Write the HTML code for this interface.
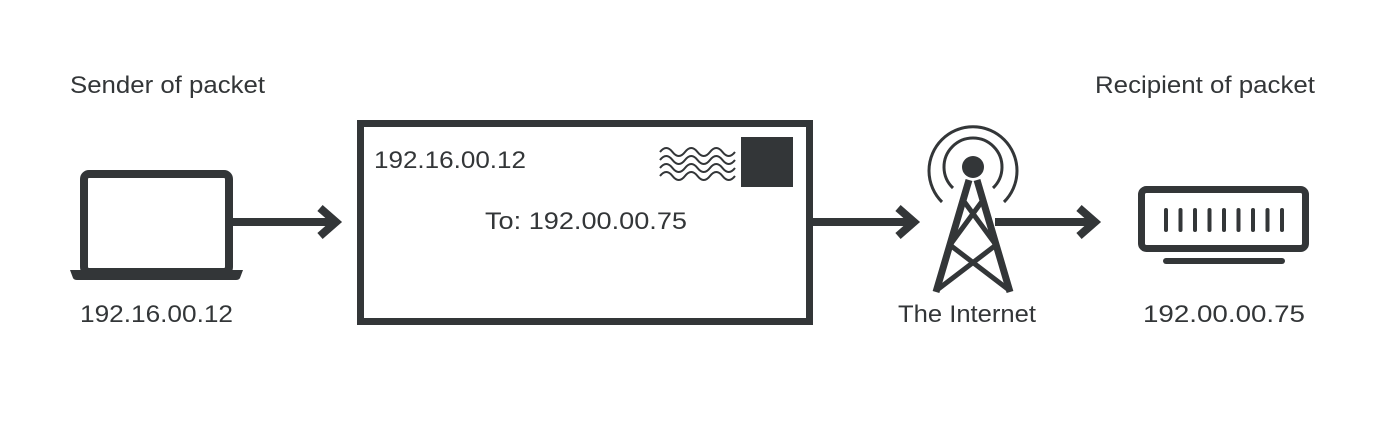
<!DOCTYPE html>
<html><head><meta charset="utf-8"><style>html,body{margin:0;padding:0;background:#fff}svg{display:block}</style></head>
<body>
<svg width="1380" height="424" viewBox="0 0 1380 424" xmlns="http://www.w3.org/2000/svg">
<g fill="#333638" font-family="Liberation Sans, sans-serif" font-size="24">
<text x="70" y="93" textLength="195" lengthAdjust="spacingAndGlyphs">Sender of packet</text>
<text x="1095" y="93" textLength="220" lengthAdjust="spacingAndGlyphs">Recipient of packet</text>
<text x="80" y="322" textLength="153" lengthAdjust="spacingAndGlyphs">192.16.00.12</text>
<text x="898" y="322" textLength="138" lengthAdjust="spacingAndGlyphs">The Internet</text>
<text x="1143" y="322" textLength="162" lengthAdjust="spacingAndGlyphs">192.00.00.75</text>
<text x="374" y="168" textLength="152" lengthAdjust="spacingAndGlyphs">192.16.00.12</text>
<text x="485" y="229" textLength="202" lengthAdjust="spacingAndGlyphs">To: 192.00.00.75</text>
</g>
<g stroke="#333638" fill="none">
<rect x="84" y="174" width="145" height="98" rx="5" stroke-width="8"/>
<path d="M70 270 H243 L240 278 Q239 280 236 280 H77 Q74 280 73 278 Z" fill="#333638" stroke="none"/>
<line x1="233" y1="222" x2="336" y2="222" stroke-width="8"/>
<polyline points="320,208 336,222 320,236" stroke-width="8"/>
<line x1="813" y1="222" x2="914" y2="222" stroke-width="8"/>
<polyline points="898,208 914,222 898,236" stroke-width="8"/>
<line x1="995" y1="222" x2="1095" y2="222" stroke-width="8"/>
<polyline points="1079,208 1095,222 1079,236" stroke-width="8"/>
<rect x="360.5" y="123.5" width="449" height="198" stroke-width="7"/>
<rect x="741" y="137" width="52" height="50" fill="#333638" stroke="none"/>
<g stroke-width="2">
<path d="M660 152 q6.25 -8 12.5 0 t12.5 0 t12.5 0 t12.5 0 t12.5 0 t12.5 0"/>
<path d="M660 160 q6.25 -8 12.5 0 t12.5 0 t12.5 0 t12.5 0 t12.5 0 t12.5 0"/>
<path d="M660 168 q6.25 -8 12.5 0 t12.5 0 t12.5 0 t12.5 0 t12.5 0 t12.5 0"/>
<path d="M660 176 q6.25 -8 12.5 0 t12.5 0 t12.5 0 t12.5 0 t12.5 0 t12.5 0"/>
</g>
<circle cx="973" cy="167" r="11" fill="#333638" stroke="none"/>
<path d="M953 188 A29 29 0 1 1 993 188" stroke-width="3"/>
<path d="M942 202 A44 44 0 1 1 1004 202" stroke-width="3"/>
<path d="M969 180 L936 292 M977 180 L1010 292" stroke-width="7"/>
<path d="M963 200 L996 245 L937 290 M983 200 L950 245 L1009 290" stroke-width="5"/>
<rect x="1141.5" y="189.5" width="164" height="59" rx="5" stroke-width="7"/>
<g stroke-width="4" stroke-linecap="round">
<line x1="1166" y1="210" x2="1166" y2="230"/>
<line x1="1180.5" y1="210" x2="1180.5" y2="230"/>
<line x1="1195" y1="210" x2="1195" y2="230"/>
<line x1="1209.5" y1="210" x2="1209.5" y2="230"/>
<line x1="1224" y1="210" x2="1224" y2="230"/>
<line x1="1238.5" y1="210" x2="1238.5" y2="230"/>
<line x1="1253" y1="210" x2="1253" y2="230"/>
<line x1="1267.5" y1="210" x2="1267.5" y2="230"/>
<line x1="1282" y1="210" x2="1282" y2="230"/>
</g>
<line x1="1166" y1="261" x2="1282" y2="261" stroke-width="6" stroke-linecap="round"/>
</g>
</svg>
</body></html>
